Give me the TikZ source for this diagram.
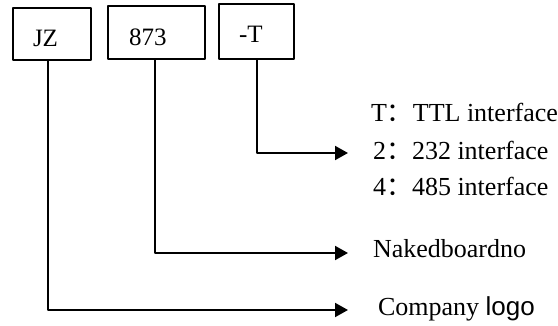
\documentclass[tikz,border=0pt]{standalone}
\usepackage{fontspec}
\setmainfont{Liberation Serif}
\newfontfamily\cjkf{Noto Sans CJK SC}
\newfontfamily\arialf{Liberation Sans}
\usetikzlibrary{arrows.meta}
\begin{document}
\begin{tikzpicture}[x=0.5pt, y=-0.5pt, font=\fontsize{13}{15}\selectfont, line join=round, line width=1pt,
	>={Triangle[length=6.5pt,width=7pt]},
	box/.style={draw, inner sep=0pt},
	txt/.style={anchor=base west, inner sep=0pt},
	boxtxt/.style={txt, font=\fontsize{12.5}{15}\selectfont}]
	\useasboundingbox (0,0) rectangle (558,326);
	% code boxes
	\node[box, minimum width=39pt, minimum height=26pt] (jz) at (52,34) {};
	\node[box, minimum width=48.5pt, minimum height=26.5pt] (num) at (156.5,32.5) {};
	\node[box, minimum width=37.5pt, minimum height=27.5pt] (tt) at (256.5,31.5) {};
	\node[boxtxt] (jzt) at (32,47) {JZ};
	\node[boxtxt] (numt) at (128,46) {873};
	\node[boxtxt] (ttt) at (238,43) {-T};
	% meanings
	\node[txt] (t1) at (370,122) {T{\cjkf ：}TTL interface};
	\node[txt] (t2) at (372,160) {2{\cjkf ：}232 interface};
	\node[txt] (t3) at (372,196) {4{\cjkf ：}485 interface};
	\node[txt] (naked) at (372,258) {Nakedboardno};
	\node[txt] (logo) at (377,316) {Company {\arialf logo}};

	\draw[->] ([xshift=0.25pt]tt.south) |- ([shift={(-12pt,3.5pt)}]t2.base west);
	\draw[->] ([xshift=-0.75pt]num.south) |- ([shift={(-12pt,2.5pt)}]naked.base west);
	\draw[->] ([xshift=-2pt]jz.south) |- ([shift={(-14.5pt,3pt)}]logo.base west);
\end{tikzpicture}
\end{document}
